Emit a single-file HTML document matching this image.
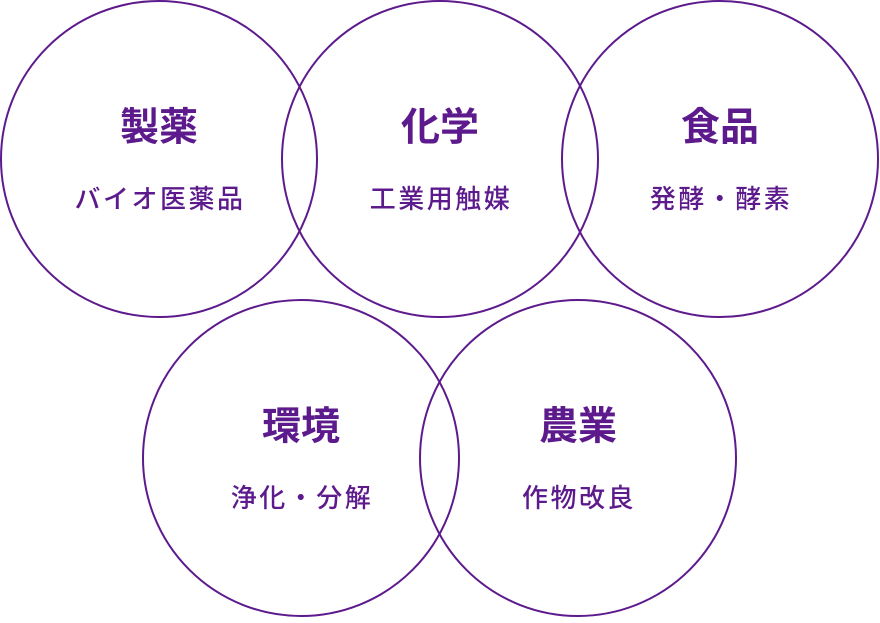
<!DOCTYPE html>
<html><head><meta charset="utf-8"><style>
html,body{margin:0;padding:0;background:#fff;}
svg text{font-family:"Liberation Sans","Noto Sans CJK JP",sans-serif;fill:#5d1a8c;text-anchor:middle;dominant-baseline:central;}
.t{font-size:39px;font-weight:700;}
.s{font-size:26px;letter-spacing:2.5px;font-weight:500;}
</style></head><body>
<svg width="880" height="618" viewBox="0 0 880 618" xmlns="http://www.w3.org/2000/svg">
<g fill="none" stroke="#5d1a8c" stroke-width="2">
<circle cx="159" cy="159" r="158"/>
<circle cx="440" cy="159" r="158"/>
<circle cx="720" cy="159" r="158"/>
<circle cx="301" cy="458" r="158"/>
<circle cx="578" cy="458" r="158"/>
</g>
<text class="t" x="159" y="128">製薬</text>
<text class="s" x="160" y="199">バイオ医薬品</text>
<text class="t" x="440" y="128">化学</text>
<text class="s" x="441" y="199">工業用触媒</text>
<text class="t" x="720" y="128">食品</text>
<text class="s" x="721" y="199">発酵・酵素</text>
<text class="t" x="301" y="427">環境</text>
<text class="s" x="302" y="498">浄化・分解</text>
<text class="t" x="578" y="427">農業</text>
<text class="s" x="579" y="498">作物改良</text>
</svg>
</body></html>
